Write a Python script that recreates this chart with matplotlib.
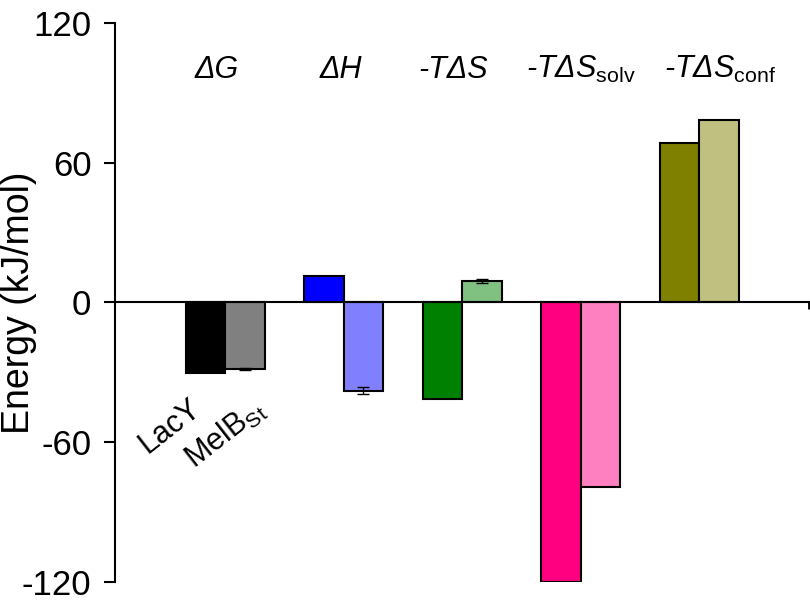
import matplotlib.pyplot as plt
import numpy as np

plt.rcParams['font.family'] = ['Liberation Sans', 'DejaVu Sans']
plt.rcParams['mathtext.fontset'] = 'custom'
plt.rcParams['mathtext.rm'] = 'Liberation Sans'
plt.rcParams['mathtext.it'] = 'Liberation Sans:italic'
plt.rcParams['axes.unicode_minus'] = False

terms = ['ΔG', 'ΔH', '-TΔS', r'-TΔS$_{\mathrm{solv}}$', r'-TΔS$_{\mathrm{conf}}$']
term_x = [-0.068, 0.979, 1.924, 3.004, 4.177]
lacy = [-30.3, 11.4, -41.4, -120.0, 68.5]
melb = [-28.6, -38.0, 9.2, -79.2, 78.4]
melb_err = [0.4, 1.5, 0.8, 0, 0]
lacy_colors = ['#000000', '#0000ff', '#008000', '#ff0080', '#808000']
melb_colors = ['#808080', '#8080ff', '#80c080', '#ff80c0', '#c0c080']

x = np.arange(len(terms))
w = 1 / 3

fig = plt.figure(figsize=(8.1, 6.03), dpi=100)
ax = fig.add_axes([0.142, 0.035, 0.857, 0.927])

ax.bar(x - w / 2, lacy, w, color=lacy_colors, edgecolor='black', linewidth=1.5)
ax.bar(x + w / 2, melb, w, color=melb_colors, edgecolor='black', linewidth=1.5)
for xi, v, e in zip(x + w / 2, melb, melb_err):
    if e > 0:
        ax.errorbar(xi, v, yerr=e, color='black', capsize=4, elinewidth=1, capthick=1)

for xi, t in zip(term_x, terms):
    ax.text(xi, 96.4, t, ha='center', va='baseline', fontsize=22, style='italic')

ax.text(-0.47, -53, 'LacY', rotation=38, ha='center', va='center', fontsize=22)
ax.text(0.0, -56.5, r'MelB$_{\mathrm{St}}$', rotation=38, ha='center', va='center', fontsize=22)

ax.set_xlim(-0.93, 4.93)
ax.set_ylim(-120, 120)
ax.set_yticks([-120, -60, 0, 60, 120])
ax.set_ylabel('Energy (kJ/mol)', fontsize=27)
ax.yaxis.set_label_coords(-0.112, 0.5)
ax.tick_params(axis='y', labelsize=25, length=8, width=1.5, pad=9)
ax.set_xticks([4.93])
ax.set_xticklabels([''])
ax.tick_params(axis='x', length=5, width=2)
ax.spines['top'].set_visible(False)
ax.spines['right'].set_visible(False)
ax.spines['bottom'].set_position(('data', 0))
ax.spines['left'].set_linewidth(1.5)
ax.spines['bottom'].set_linewidth(1.5)

fig.savefig('out.png', dpi=100)
